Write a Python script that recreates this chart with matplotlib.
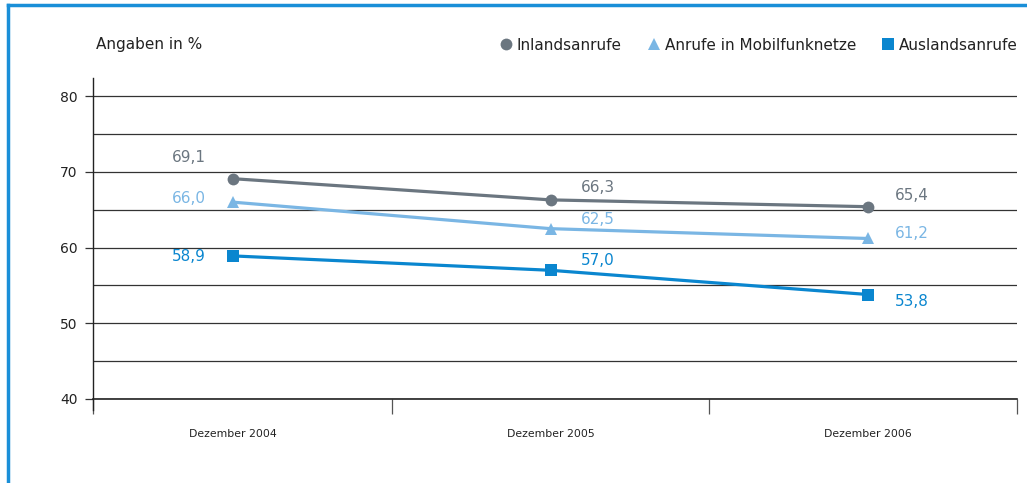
import matplotlib
matplotlib.use('Agg')
import matplotlib.pyplot as plt
from matplotlib.lines import Line2D

plt.rcParams['font.family'] = ['DejaVu Sans']

# Daten
kategorien = ['Dezember 2004', 'Dezember 2005', 'Dezember 2006']
inland = [69.1, 66.3, 65.4]
mobil = [66.0, 62.5, 61.2]
ausland = [58.9, 57.0, 53.8]
serien_namen = ['Inlandsanrufe', 'Anrufe in Mobilfunknetze', 'Auslandsanrufe']

farben = ['#6b7680', '#7ab6e4', '#0a86cf']
marker = ['o', '^', 's']
# Versatz der Wertebeschriftungen in Pixeln
versatz = [
    [(-44, 21), (47, 12), (44, 11)],
    [(-44, 4), (47, 9), (44, 5)],
    [(-44, -1), (47, 10), (44, -7)],
]

fig = plt.figure(figsize=(10.27, 4.83), dpi=100)
ax = fig.add_axes([93 / 1027, 1 - 399 / 483, (1017 - 93) / 1027, (399 - 78) / 483])

x = list(range(len(kategorien)))
for i, werte in enumerate([inland, mobil, ausland]):
    ax.plot(x, werte, color=farben[i], lw=2.3, marker=marker[i], ms=8.5,
            markeredgewidth=0, zorder=3, clip_on=False)
    for j, w in enumerate(werte):
        ax.annotate(f'{w:.1f}'.replace('.', ','), (x[j], w),
                    xytext=versatz[i][j], textcoords='offset pixels',
                    ha='center', va='center', fontsize=11, color=farben[i])

ax.set_xlim(-0.441, 2.469)
ax.set_ylim(40, 82.4)
ax.set_yticks([40, 50, 60, 70, 80])
ax.set_yticks([45, 55, 65, 75], minor=True)
ax.yaxis.grid(True, which='both', color='#333333', lw=0.9)
ax.set_axisbelow(True)
ax.tick_params(axis='y', which='both', length=0, labelsize=10, pad=5)
ax.tick_params(axis='y', which='major', length=6, width=0.9, color='#333333',
               labelcolor='#222222')

ax.set_xticks([-0.441, 0.5, 1.5, 2.469])
ax.set_xticklabels([])
ax.tick_params(axis='x', length=11, width=0.9, color='#555555')
for j, k in enumerate(kategorien):
    ax.text(x[j], -0.11, k, transform=ax.get_xaxis_transform(),
            ha='center', va='center', fontsize=7.8, color='#222222')

for s in ['top', 'right']:
    ax.spines[s].set_visible(False)
ax.spines['left'].set_color('#222222')
ax.spines['bottom'].set_color('#222222')
ax.spines['left'].set_linewidth(1)
ax.spines['bottom'].set_linewidth(1.2)
ax.spines['left'].set_bounds(40 - 11 * 42.4 / 321, 82.4)

fig.text(96 / 1027, 1 - 45 / 483, 'Angaben in %', ha='left', va='center',
         fontsize=11, color='#222222')

handles = [Line2D([], [], ls='none', marker=marker[i], color=farben[i], ms=8.5,
                  markeredgewidth=0) for i in range(3)]
fig.legend(handles, serien_namen, loc='center right', ncol=3, frameon=False,
           bbox_to_anchor=(1018 / 1027, 1 - 45 / 483), fontsize=11,
           handletextpad=0.22, columnspacing=1.6, handlelength=1.0,
           borderpad=0, borderaxespad=0, labelcolor='#222222')

# blauer Rahmen oben und links
fig.add_artist(Line2D([8 / 1027, 8 / 1027], [0, 1 - 5 / 483], color='#1a8fd8',
                      lw=2.5, transform=fig.transFigure))
fig.add_artist(Line2D([8 / 1027, 1], [1 - 5 / 483, 1 - 5 / 483], color='#1a8fd8',
                      lw=2.5, transform=fig.transFigure))

fig.savefig('out.png', dpi=100)
